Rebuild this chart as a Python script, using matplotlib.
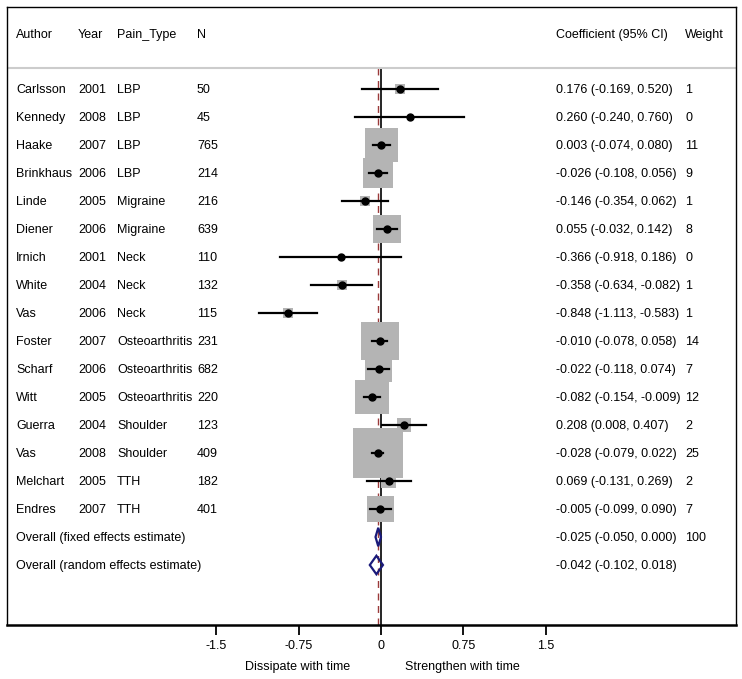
import matplotlib
matplotlib.use("Agg")
import matplotlib.pyplot as plt
from matplotlib.patches import Rectangle, Polygon

plt.rcParams['font.family'] = ['Liberation Sans', 'DejaVu Sans']

authors = ['Carlsson', 'Kennedy', 'Haake', 'Brinkhaus', 'Linde', 'Diener', 'Irnich', 'White',
           'Vas', 'Foster', 'Scharf', 'Witt', 'Guerra', 'Vas', 'Melchart', 'Endres']
years = [2001, 2008, 2007, 2006, 2005, 2006, 2001, 2004, 2006, 2007, 2006, 2005, 2004, 2008, 2005, 2007]
pain_types = ['LBP', 'LBP', 'LBP', 'LBP', 'Migraine', 'Migraine', 'Neck', 'Neck', 'Neck',
              'Osteoarthritis', 'Osteoarthritis', 'Osteoarthritis', 'Shoulder', 'Shoulder', 'TTH', 'TTH']
n_sizes = [50, 45, 765, 214, 216, 639, 110, 132, 115, 231, 682, 220, 123, 409, 182, 401]
coef = [0.176, 0.260, 0.003, -0.026, -0.146, 0.055, -0.366, -0.358, -0.848, -0.010, -0.022,
        -0.082, 0.208, -0.028, 0.069, -0.005]
lower = [-0.169, -0.240, -0.074, -0.108, -0.354, -0.032, -0.918, -0.634, -1.113, -0.078, -0.118,
         -0.154, 0.008, -0.079, -0.131, -0.099]
upper = [0.520, 0.760, 0.080, 0.056, 0.062, 0.142, 0.186, -0.082, -0.583, 0.058, 0.074,
         -0.009, 0.407, 0.022, 0.269, 0.090]
weights = [1, 0, 11, 9, 1, 8, 0, 1, 1, 14, 7, 12, 2, 25, 2, 7]

overall_labels = ['Overall (fixed effects estimate)', 'Overall (random effects estimate)']
overall_coef = [-0.025, -0.042]
overall_lower = [-0.050, -0.102]
overall_upper = [0.000, 0.018]
overall_weight = ['100', '']

xticks = [-1.5, -0.75, 0, 0.75, 1.5]
xtick_labels = ['-1.5', '-0.75', '0', '0.75', '1.5']

W, H = 742, 679
PX_PER_UNIT = 109.7   # horizontal pixels per coefficient unit
X0 = 381              # pixel of coefficient 0
ROW0, ROW_H = 89, 28  # pixel of first row, row spacing

def px(x):
    return (x - X0) / PX_PER_UNIT

def row(y):
    return (y - ROW0) / ROW_H

fig = plt.figure(figsize=(W / 100, H / 100), dpi=100)
left, right, top, bottom = 7, 736, 7, 625
ax = fig.add_axes([left / W, 1 - bottom / H, (right - left) / W, (bottom - top) / H])
ax.set_xlim(px(left), px(right))
ax.set_ylim(row(bottom), row(top))

fs = 9
dy = 1 / ROW_H  # nudge text down one pixel
cols = [16, 78, 117, 197]
for c, h in zip(cols, ['Author', 'Year', 'Pain_Type', 'N']):
    ax.text(px(c), row(35), h, fontsize=fs, va='center')
ax.text(px(556), row(35), 'Coefficient (95% CI)', fontsize=fs, va='center')
ax.text(px(685), row(35), 'Weight', fontsize=fs, va='center')
ax.axhline(row(68), color='#cccccc', lw=1.5)

# reference lines
ax.plot([0, 0], [row(68), row(bottom)], color='black', lw=1.2, zorder=1)
ax.plot([overall_coef[0]] * 2, [row(68), row(bottom)], color='#9b3a3a', lw=1.0,
        ls=(0, (5, 4)), zorder=1)

for i in range(len(authors)):
    ax.text(px(16), i + dy, authors[i], fontsize=fs, va='center')
    ax.text(px(78), i + dy, str(years[i]), fontsize=fs, va='center')
    ax.text(px(117), i + dy, pain_types[i], fontsize=fs, va='center')
    ax.text(px(197), i + dy, str(n_sizes[i]), fontsize=fs, va='center')
    ax.text(px(556), i + dy, f'{coef[i]:.3f} ({lower[i]:.3f}, {upper[i]:.3f})', fontsize=fs, va='center')
    ax.text(px(685), i + dy, str(weights[i]), fontsize=fs, va='center')
    side = 10 * weights[i] ** 0.5
    if side > 0:
        ax.add_patch(Rectangle((coef[i] - side / 2 / PX_PER_UNIT, i - side / 2 / ROW_H),
                               side / PX_PER_UNIT, side / ROW_H,
                               facecolor='#b4b4b4', edgecolor='none', zorder=2))
    ax.plot([lower[i], upper[i]], [i, i], color='black', lw=1.6, zorder=3)
    ax.plot(coef[i], i, 'o', color='black', ms=5, zorder=4)

n = len(authors)
for j in range(2):
    y = n + j
    ax.text(px(16), y + dy, overall_labels[j], fontsize=fs, va='center')
    ax.text(px(556), y + dy, f'{overall_coef[j]:.3f} ({overall_lower[j]:.3f}, {overall_upper[j]:.3f})',
            fontsize=fs, va='center')
    ax.text(px(685), y + dy, overall_weight[j], fontsize=fs, va='center')
    hh = 0.33
    ax.add_patch(Polygon([(overall_lower[j], y), (overall_coef[j], y - hh),
                          (overall_upper[j], y), (overall_coef[j], y + hh)],
                         closed=True, fill=False, edgecolor='#1a1a7a', lw=1.6, zorder=5))

for s in ['top', 'left', 'right']:
    ax.spines[s].set_linewidth(1.0)
ax.spines['bottom'].set_linewidth(1.8)
ax.set_yticks([])
ax.set_xticks(xticks)
ax.set_xticklabels(xtick_labels, fontsize=fs)
ax.tick_params(axis='x', direction='out', length=7, width=1.3, pad=4)

fig.text(298 / W, 1 - 667 / H, 'Dissipate with time', fontsize=fs, ha='center', va='center')
fig.text(462 / W, 1 - 667 / H, 'Strengthen with time', fontsize=fs, ha='center', va='center')

fig.savefig('out.png', dpi=100)
